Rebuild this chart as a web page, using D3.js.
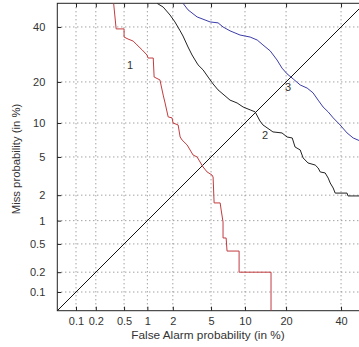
<!DOCTYPE html>
<html>
<head>
<meta charset="utf-8">
<script src="https://cdn.jsdelivr.net/npm/d3@7"></script>
<style>
  html, body { margin: 0; padding: 0; background: #fff; overflow: hidden; }
  svg { display: block; font-family: Arial, "Liberation Sans", sans-serif; }
</style>
</head>
<body>
<div id="det"></div>
<script>
// axis range and ticks (percent)
const domainPct = [0.05, 50];
const tickPct = [0.1, 0.2, 0.5, 1, 2, 5, 10, 20, 40];
const tickLabels = ['0.1', '0.2', '0.5', '1', '2', '5', '10', '20', '40'];

// curve 1 (red)
const fa1 = [0.36, 0.39, 0.50, 0.50, 0.565, 0.66, 0.74, 0.86, 0.99, 1.02, 1.18, 1.21, 1.42, 1.55, 1.63, 1.77, 1.96, 2.01, 2.29, 2.41, 2.53, 2.87, 3.08, 3.31, 3.64, 3.90, 4.18, 4.58, 5.11, 5.23, 5.35, 6.09, 6.22, 6.47, 6.47, 6.90, 7.03, 8.94, 8.94, 15.8, 15.8];
const miss1 = [50, 39.2, 39.2, 35.9, 35.1, 34.3, 32.8, 30.9, 29.0, 27.9, 27.9, 21.5, 20.6, 16.3, 14.3, 11.2, 11.0, 10.0, 9.65, 7.62, 7.17, 6.46, 5.82, 5.22, 5.0, 4.47, 3.99, 3.55, 3.30, 3.15, 1.63, 1.63, 1.35, 0.96, 0.60, 0.60, 0.40, 0.40, 0.20, 0.20, 0.05];

// curve 2 (black)
const fa2 = [1.31, 1.55, 1.86, 2.11, 2.41, 2.59, 2.93, 3.23, 3.47, 3.72, 4.18, 4.68, 5.23, 5.82, 6.74, 7.47, 8.6, 9.65, 11.0, 12.05, 13.1, 13.8, 16.3, 18.8, 20.3, 21.9, 22.8, 24.5, 25.5, 27.2, 29.8, 30.9, 31.7, 33.6, 34.8, 35.6, 36.8, 37.6, 42.5, 42.9, 50];
const miss2 = [50, 48.4, 45.0, 42.1, 38.4, 36.3, 32.0, 29.0, 27.2, 25.5, 23.8, 21.5, 19.4, 17.7, 16.1, 15.0, 14.3, 13.35, 12.7, 12.25, 10.4, 9.65, 8.43, 8.26, 7.62, 7.47, 6.20, 5.82, 4.89, 4.37, 4.17, 3.90, 3.55, 3.47, 3.07, 2.72, 2.40, 2.11, 2.11, 1.96, 1.96];

// curve 3 (blue)
const fa3 = [2.59, 2.93, 3.64, 4.9, 5.83, 6.47, 7.47, 9.11, 11.0, 12.5, 13.8, 15.6, 17.4, 18.8, 20.3, 22.2, 24.5, 26.9, 29.0, 30.9, 32.8, 34.8, 36.8, 39.6, 42.5, 45.1, 50];
const miss3 = [50, 47.2, 44.2, 42.1, 41.7, 40.0, 38.4, 36.7, 35.9, 34.7, 32.8, 30.5, 27.2, 24.4, 22.5, 20.9, 19.1, 18.2, 16.9, 15.0, 13.35, 12.25, 11.0, 9.65, 8.26, 7.47, 6.75];

// curve labels [fa %, miss %]
const curveNames = ['1', '2', '3'];
const labelFa = [0.60, 14.3, 20.6];
const labelMiss = [25.5, 7.9, 18.5];

// inverse normal cdf (Acklam)
function probit(p) {
  const a = [-3.969683028665376e+01, 2.209460984245205e+02, -2.759285104469687e+02, 1.383577518672690e+02, -3.066479806614716e+01, 2.506628277459239e+00];
  const b = [-5.447609879822406e+01, 1.615858368580409e+02, -1.556989798598866e+02, 6.680131188771972e+01, -1.328068155288572e+01];
  const c = [-7.784894002430293e-03, -3.223964580411365e-01, -2.400758277161838e+00, -2.549732539343734e+00, 4.374664141464968e+00, 2.938163982698783e+00];
  const d = [7.784695709041462e-03, 3.224671290700398e-01, 2.445134137142996e+00, 3.754408661907416e+00];
  const lo = 0.02425;
  let q, r;
  if (p < lo) {
    q = Math.sqrt(-2 * Math.log(p));
    return (((((c[0]*q+c[1])*q+c[2])*q+c[3])*q+c[4])*q+c[5]) / ((((d[0]*q+d[1])*q+d[2])*q+d[3])*q+1);
  }
  if (p <= 1 - lo) {
    q = p - 0.5; r = q * q;
    return (((((a[0]*r+a[1])*r+a[2])*r+a[3])*r+a[4])*r+a[5])*q / (((((b[0]*r+b[1])*r+b[2])*r+b[3])*r+b[4])*r+1);
  }
  q = Math.sqrt(-2 * Math.log(1 - p));
  return -(((((c[0]*q+c[1])*q+c[2])*q+c[3])*q+c[4])*q+c[5]) / ((((d[0]*q+d[1])*q+d[2])*q+d[3])*q+1);
}
const dev = pct => probit(pct / 100);

const W = 359, H = 347;
const margin = { top: 3.3, left: 57.3 };
const size = 307.4; // square plot, right side runs off the page

const svg = d3.select('#det').append('svg')
  .attr('width', W)
  .attr('height', H);

const g = svg.append('g')
  .attr('transform', `translate(${margin.left},${margin.top})`);

const xLin = d3.scaleLinear().domain(domainPct.map(dev)).range([0, size]);
const yLin = d3.scaleLinear().domain(domainPct.map(dev)).range([size, 0]);
const x = p => xLin(dev(p));
const y = p => yLin(dev(p));

g.append('clipPath').attr('id', 'clip')
  .append('rect').attr('width', size).attr('height', size);

// dotted grid
const grid = g.append('g')
  .attr('stroke', '#7a7a7a')
  .attr('stroke-width', 1)
  .attr('stroke-dasharray', '1,3');
grid.selectAll('.gx').data(tickPct).join('line')
  .attr('x1', d => x(d)).attr('x2', d => x(d))
  .attr('y1', 0).attr('y2', size);
grid.selectAll('.gy').data(tickPct).join('line')
  .attr('y1', d => y(d)).attr('y2', d => y(d))
  .attr('x1', 0).attr('x2', size);

// axes (inward ticks like matlab)
g.append('g')
  .attr('transform', `translate(0,${size})`)
  .call(d3.axisBottom(xLin)
    .tickValues(tickPct.map(dev))
    .tickFormat((d, i) => tickLabels[i])
    .tickSize(-4).tickPadding(7).tickSizeOuter(0));
g.append('g')
  .call(d3.axisTop(xLin).tickValues(tickPct.map(dev)).tickFormat('').tickSize(-4).tickSizeOuter(0));
g.append('g')
  .call(d3.axisLeft(yLin)
    .tickValues(tickPct.map(dev))
    .tickFormat((d, i) => tickLabels[i])
    .tickSize(-4).tickPadding(12).tickSizeOuter(0));

g.selectAll('.domain').remove();
g.selectAll('.tick line').attr('stroke', '#222');
g.selectAll('.tick text').attr('fill', '#333').style('font-size', '11px');

// box
g.append('rect')
  .attr('width', size).attr('height', size)
  .attr('fill', 'none').attr('stroke', '#222').attr('stroke-width', 1);

// curves
const line = d3.line().x(d => x(d[0])).y(d => y(d[1]));
const plot = g.append('g').attr('clip-path', 'url(#clip)').attr('fill', 'none').attr('stroke-width', 1);

plot.append('path')
  .attr('d', line(domainPct.map(p => [p, p])))
  .attr('stroke', '#111');

const curves = [
  { fa: fa1, miss: miss1, color: '#c23b3e' },
  { fa: fa2, miss: miss2, color: '#222' },
  { fa: fa3, miss: miss3, color: '#3c3ca8' }
];
curves.forEach(c => {
  plot.append('path')
    .attr('d', line(c.fa.map((f, i) => [f, c.miss[i]])))
    .attr('stroke', c.color);
});

g.selectAll('.clabel').data(curveNames).join('text')
  .attr('x', (d, i) => x(labelFa[i]))
  .attr('y', (d, i) => y(labelMiss[i]))
  .attr('dy', '0.35em')
  .attr('text-anchor', 'middle')
  .attr('fill', '#333')
  .style('font-size', '11px')
  .text(d => d);

// axis titles
svg.append('text')
  .attr('x', 208)
  .attr('y', 339)
  .attr('text-anchor', 'middle')
  .attr('fill', '#333')
  .style('font-size', '11.8px')
  .text('False Alarm probability (in %)');

svg.append('text')
  .attr('transform', `translate(20,${margin.top + size / 2 + 2}) rotate(-90)`)
  .attr('text-anchor', 'middle')
  .attr('fill', '#333')
  .style('font-size', '11.3px')
  .text('Miss probability (in %)');
</script>
</body>
</html>
